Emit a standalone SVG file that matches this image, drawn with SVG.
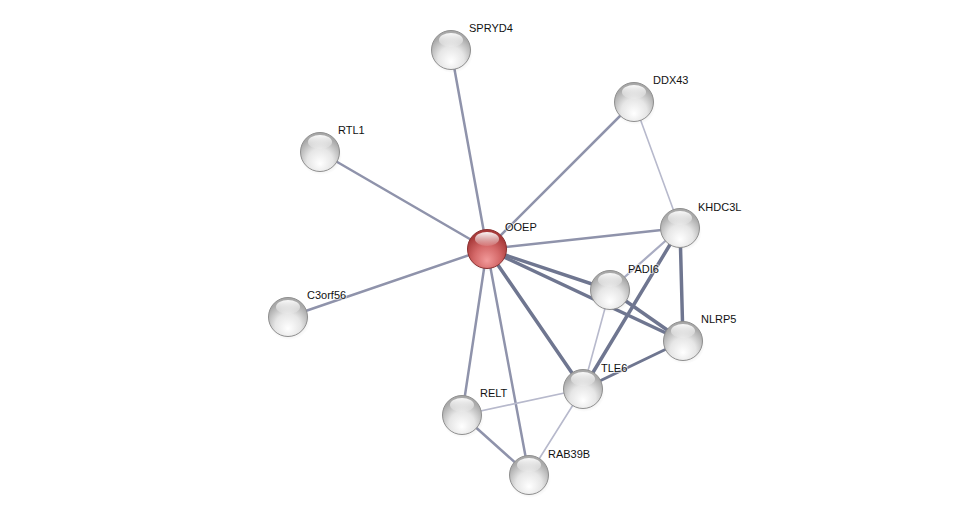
<svg xmlns="http://www.w3.org/2000/svg" width="976" height="521" viewBox="0 0 976 521">
<defs>
<radialGradient id="gg" cx="50%" cy="70%" r="60%" fx="50%" fy="80%">
<stop offset="0" stop-color="#ffffff"/>
<stop offset="0.55" stop-color="#e6e6e6"/>
<stop offset="1" stop-color="#a9a9a9"/>
</radialGradient>
<radialGradient id="rg" cx="50%" cy="70%" r="60%" fx="50%" fy="80%">
<stop offset="0" stop-color="#f29a9a"/>
<stop offset="0.55" stop-color="#d46868"/>
<stop offset="1" stop-color="#a83a3a"/>
</radialGradient>
<linearGradient id="hl" x1="0" y1="0" x2="0" y2="1">
<stop offset="0" stop-color="#ffffff" stop-opacity="0.95"/>
<stop offset="1" stop-color="#ffffff" stop-opacity="0.1"/>
</linearGradient>
<radialGradient id="sh" cx="50%" cy="50%" r="50%">
<stop offset="0" stop-color="#000" stop-opacity="0.25"/>
<stop offset="1" stop-color="#000" stop-opacity="0"/>
</radialGradient>
<g id="ball">
<ellipse cx="1" cy="4" rx="21" ry="19" fill="url(#sh)"/>
<circle r="19.5" fill="url(#gg)" stroke="#8f8f8f" stroke-width="1"/>
<ellipse cx="0" cy="-10" rx="12" ry="7" fill="url(#hl)"/>
</g>
</defs>
<style>
.e{fill:none;stroke-linecap:round}
.s{stroke:#6f7690;stroke-width:3.5}
.m{stroke:#8f93ab;stroke-width:2.5}
.w{stroke:#b7b9cc;stroke-width:1.6}
text{font-family:"Liberation Sans",Arial,sans-serif;font-size:11px;fill:#111;paint-order:stroke;stroke:#fff;stroke-width:2px;stroke-opacity:0.6}
</style>
<rect width="976" height="521" fill="#fff"/>
<g id="edges">
<line class="e m" x1="487" y1="249" x2="451" y2="50"/>
<line class="e m" x1="487" y1="249" x2="634" y2="102"/>
<line class="e m" x1="487" y1="249" x2="320" y2="152"/>
<line class="e m" x1="487" y1="249" x2="288" y2="317"/>
<line class="e m" x1="487" y1="249" x2="680" y2="228"/>
<line class="e s" x1="487" y1="249" x2="610" y2="290"/>
<line class="e s" x1="487" y1="249" x2="683" y2="341"/>
<line class="e s" x1="487" y1="249" x2="583" y2="389"/>
<line class="e m" x1="487" y1="249" x2="462" y2="415"/>
<line class="e m" x1="487" y1="249" x2="529" y2="475"/>
<line class="e w" x1="634" y1="102" x2="680" y2="228"/>
<line class="e w" x1="680" y1="228" x2="610" y2="290" style="stroke-width:2.2;stroke:#a9acc2"/>
<line class="e s" x1="680" y1="228" x2="683" y2="341"/>
<line class="e s" x1="680" y1="228" x2="583" y2="389"/>
<line class="e s" x1="610" y1="290" x2="683" y2="341"/>
<line class="e w" x1="610" y1="290" x2="583" y2="389"/>
<line class="e s" x1="683" y1="341" x2="583" y2="389" style="stroke-width:3"/>
<line class="e w" x1="583" y1="389" x2="462" y2="415"/>
<line class="e w" x1="583" y1="389" x2="529" y2="475"/>
<line class="e m" x1="462" y1="415" x2="529" y2="475"/>
</g>
<g id="SPRYD4"><use href="#ball" x="451" y="50"/><text x="469" y="32">SPRYD4</text></g>
<g id="DDX43"><use href="#ball" x="634" y="102"/><text x="653" y="84">DDX43</text></g>
<g id="RTL1"><use href="#ball" x="320" y="152"/><text x="338" y="134">RTL1</text></g>
<g id="KHDC3L"><use href="#ball" x="680" y="228"/><text x="698" y="211">KHDC3L</text></g>
<g id="PADI6"><use href="#ball" x="610" y="290"/><text x="628" y="273">PADI6</text></g>
<g id="NLRP5"><use href="#ball" x="683" y="341"/><text x="701" y="323">NLRP5</text></g>
<g id="C3orf56"><use href="#ball" x="288" y="317"/><text x="307" y="299">C3orf56</text></g>
<g id="TLE6"><use href="#ball" x="583" y="389"/><text x="601" y="372">TLE6</text></g>
<g id="RELT"><use href="#ball" x="462" y="415"/><text x="480" y="397">RELT</text></g>
<g id="RAB39B"><use href="#ball" x="529" y="475"/><text x="548" y="458">RAB39B</text></g>
<g id="OOEP">
<ellipse cx="488" cy="253" rx="21" ry="19" fill="url(#sh)"/>
<circle cx="487" cy="249" r="19.5" fill="url(#rg)" stroke="#8a3030" stroke-width="1"/>
<ellipse cx="487" cy="239" rx="12" ry="7" fill="url(#hl)"/>
<text x="505" y="231">OOEP</text>
</g>
</svg>
